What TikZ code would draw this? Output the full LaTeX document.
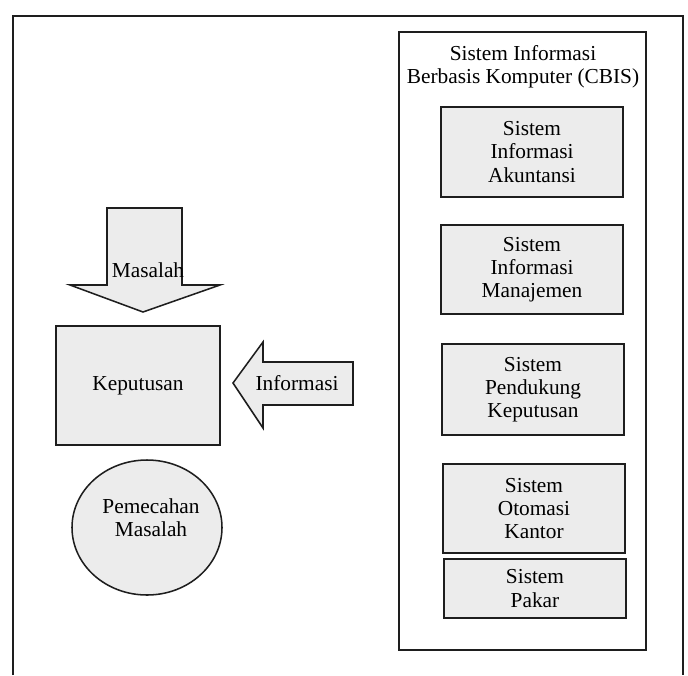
\documentclass[tikz,border=0pt]{standalone}
\usepackage{fontspec}
\setmainfont{Liberation Serif}
\definecolor{boxgray}{RGB}{236,236,236}
\definecolor{inkgray}{RGB}{30,30,30}
\begin{document}
\begin{tikzpicture}[x=0.75pt,y=0.75pt,yscale=-1,xscale=1,
	txt/.style={font=\fontsize{16}{17.3}\selectfont, align=center, inner sep=0pt},
	sysbox/.style={txt, draw=inkgray, line width=1.15pt, fill=boxgray, minimum width=136.5pt},
	blockarrow/.style={draw=inkgray, line width=1.15pt, fill=boxgray, line join=miter},
	frameline/.style={draw=inkgray, line width=1pt}]
	\useasboundingbox (0,0) rectangle (688,675);
	
	% outer frame, open at the bottom
	\draw [frameline] (13,675) -- (13,16) -- (683,16) -- (683,675) ;
	
	% CBIS box
	\draw [frameline] (399,32) rectangle (646,650) ;
	\node [txt] (cbis) at (523,66.5) {Sistem Informasi\\Berbasis Komputer (CBIS)};
	
	\node [sysbox, minimum height=67.5pt] (sia) at (532,152) {Sistem\\Informasi\\Akuntansi};
	\node [sysbox, minimum height=67pt] (sim) at (532,269.5) {Sistem\\Informasi\\Manajemen};
	\node [sysbox, minimum height=68pt] (spk) at (533,389.5) {Sistem\\Pendukung\\Keputusan};
	\node [sysbox, minimum height=67pt] (sok) at (534,508.5) {Sistem\\Otomasi\\Kantor};
	\node [sysbox, minimum height=44.25pt] (sp) at (535,588.5) {Sistem\\Pakar};
	
	% Masalah arrow
	\draw [blockarrow] (107,208) -- (182,208) -- (182,285) -- (220,285) -- (143,312) -- (70,285) -- (107,285) -- cycle ;
	\node [txt] (mas) at (148,270) {Masalah};
	
	% Keputusan
	\node [sysbox, minimum width=123pt, minimum height=89.25pt] (kep) at (138,385.5) {Keputusan};
	
	% Informasi arrow
	\draw [blockarrow] (353,362) -- (263,362) -- (263,342) -- (233,383) -- (263,428) -- (263,405) -- (353,405) -- cycle ;
	\node [txt] (inf) at (297,383) {Informasi};
	
	% Pemecahan Masalah
	\draw [blockarrow] (147,527.5) ellipse [x radius=75, y radius=67.5] ;
	\node [txt] (pm) at (151,518) {Pemecahan\\Masalah};
	
\end{tikzpicture}
\end{document}
